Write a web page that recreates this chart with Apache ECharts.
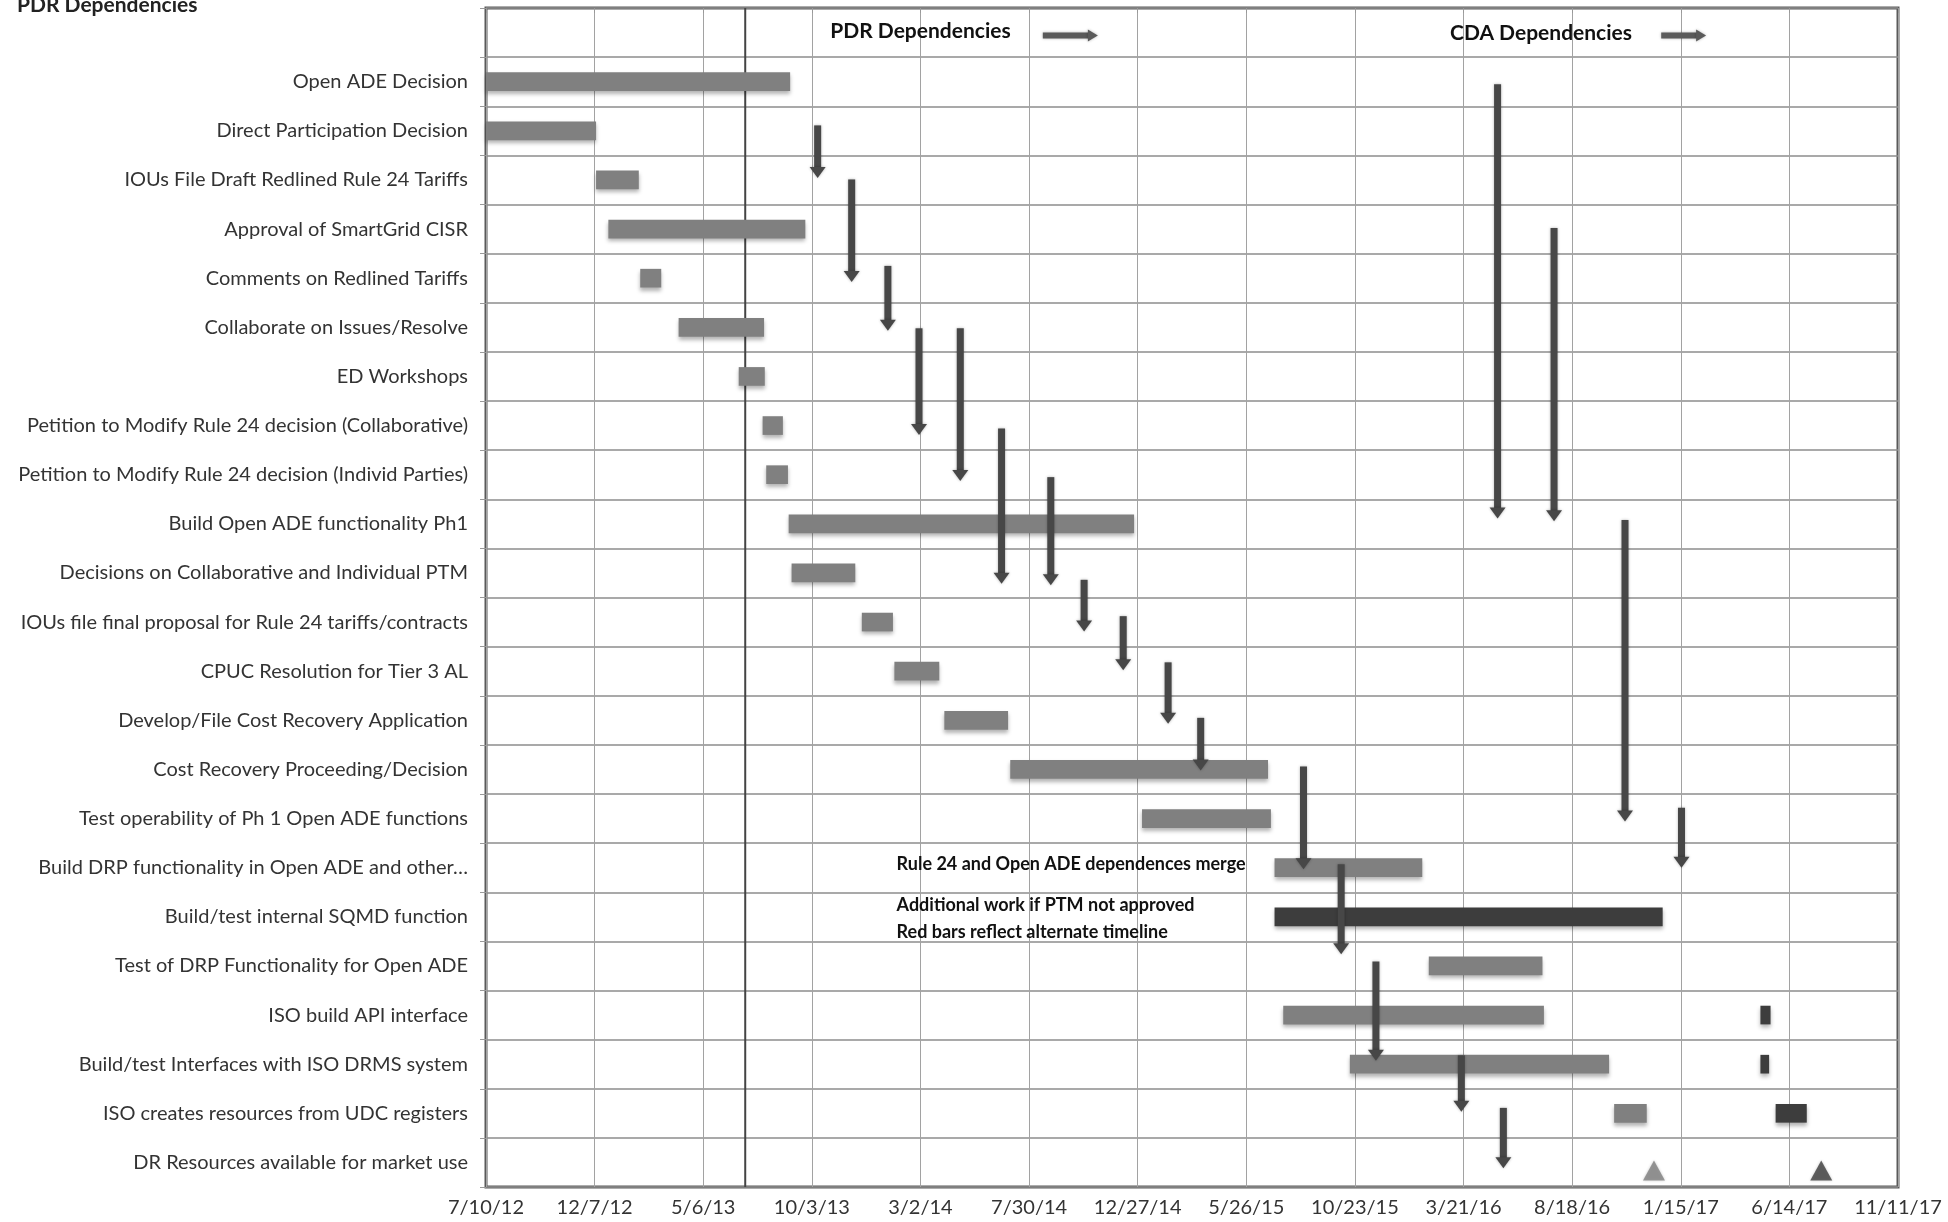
<!DOCTYPE html>
<html><head><meta charset="utf-8">
<script src="https://cdn.jsdelivr.net/npm/echarts@6/dist/echarts.min.js"></script>
<style>html,body{margin:0;padding:0;background:#fff}#c{width:1948px;height:1222px}</style>
</head><body><div id="c"></div>
<script>
// ---- Data (dates are Excel serial day numbers) ----
const categories = ['',
  'Open ADE Decision',
  'Direct Participation Decision',
  'IOUs File Draft Redlined Rule 24 Tariffs',
  'Approval of SmartGrid CISR',
  'Comments on Redlined Tariffs',
  'Collaborate on Issues/Resolve',
  'ED Workshops',
  'Petition to Modify Rule 24 decision (Collaborative)',
  'Petition to Modify Rule 24 decision (Individ Parties)',
  'Build Open ADE functionality Ph1',
  'Decisions on Collaborative and Individual PTM',
  'IOUs file final proposal for Rule 24 tariffs/contracts',
  'CPUC Resolution for Tier 3 AL',
  'Develop/File Cost Recovery Application',
  'Cost Recovery Proceeding/Decision',
  'Test operability of Ph 1 Open ADE functions',
  'Build DRP functionality in Open ADE and other…',
  'Build/test internal SQMD function',
  'Test of DRP Functionality for Open ADE',
  'ISO build API interface',
  'Build/test Interfaces with ISO DRMS system',
  'ISO creates resources from UDC registers',
  'DR Resources available for market use'
];
const taskStart = [null, 41100, 41100, 41252, 41269, 41313, 41366, 41449, 41482, 41487, 41518, 41522, 41619, 41664, 41733, 41824, 42006, 42189, 42189, 42402, 42201, 42293, 42658, null];
const taskEnd   = [null, 41520, 41252, 41311, 41541, 41342, 41484, 41485, 41510, 41517, 41995, 41610, 41662, 41726, 41821, 42180, 42184, 42393, 42725, 42559, 42561, 42651, 42703, null];
const taskTone  = ['', 'g','g','g','g','g','g','g','g','g','g','g','g','g','g','g','g','g','d','g','g','g','g',''];

const altTask  = ['ISO build API interface', 'Build/test Interfaces with ISO DRMS system', 'ISO creates resources from UDC registers'];
const altStart = [42860, 42860, 42881];
const altEnd   = [42874, 42872, 42924];

const milestoneTask = ['DR Resources available for market use', 'DR Resources available for market use'];
const milestoneDate = [42713, 42944];
const milestoneTone = ['g', 'd'];

const todayDate = 41458;

// dependency arrows: date, from row position, to row position (0 = top of chart, 1 per row)
const arrowDate = [41558, 41605, 41655, 41698, 41755, 41812, 41880, 41926, 41980, 42042, 42087, 42229, 42281, 42329, 42447, 42505, 42497, 42575, 42673, 42751];
const arrowFrom = [2.39, 3.49, 5.25, 6.52, 6.52, 8.56, 9.55, 11.64, 12.38, 13.32, 14.45, 15.44, 17.43, 19.41, 21.32, 22.39, 1.55, 4.48, 10.42, 16.28];
const arrowTo   = [3.46, 5.58, 6.57, 8.69, 9.63, 11.72, 11.75, 12.69, 13.48, 14.57, 15.52, 17.53, 19.26, 21.43, 22.47, 23.62, 10.39, 10.45, 16.56, 17.50];

const headerText  = ['PDR Dependencies', 'CDA Dependencies'];
const headerDate  = [41700, 42557];
const headerRow   = [0.48, 0.52];
const headerArrowStart = [41869, 42723];
const headerArrowEnd   = [41945, 42785];
const headerArrowRow   = [0.56, 0.56];

const noteText = ['Rule 24 and Open ADE dependences merge', 'Additional work if PTM not approved', 'Red bars reflect alternate timeline'];
const noteDate = [41667, 41667, 41667];
const noteRow  = [17.43, 18.27, 18.82];

const xMin = 41100, xMax = 43050, xStep = 150;

// ---- Chart ----
const FONT = 'Lato, "Liberation Sans", sans-serif';
const GRAY = '#808080', DARK = '#3d3d3d', ARROW = '#474747';

function serialToLabel(v) {
  const d = new Date(Date.UTC(1899, 11, 30) + Math.round(v) * 86400000);
  return (d.getUTCMonth() + 1) + '/' + d.getUTCDate() + '/' + String(d.getUTCFullYear()).slice(2);
}
function rowOf(name) { return categories.indexOf(name) + 0.5; }

const barData = [];
categories.forEach((c, i) => {
  if (taskStart[i] == null) return;
  barData.push({ value: [taskStart[i], taskEnd[i], i + 0.5], itemStyle: { color: taskTone[i] === 'd' ? DARK : GRAY } });
});
altTask.forEach((c, i) => barData.push({ value: [altStart[i], altEnd[i], rowOf(c)], itemStyle: { color: DARK } }));

const msData = milestoneTask.map((c, i) => ({ value: [milestoneDate[i], rowOf(c)], itemStyle: { color: milestoneTone[i] === 'd' ? DARK : GRAY } }));

const arrowData = arrowDate.map((d, i) => [d, arrowFrom[i], arrowTo[i]]);
const hArrowData = headerArrowStart.map((s, i) => [s, headerArrowEnd[i], headerArrowRow[i]]);
const headerData = headerText.map((t, i) => [headerDate[i], headerRow[i], t]);
const noteData = noteText.map((t, i) => [noteDate[i], noteRow[i], t]);
const todayData = [[todayDate, 0, categories.length]];

const chart = echarts.init(document.getElementById('c'));
chart.setOption({
  backgroundColor: '#fff',
  animation: false,
  title: { text: 'PDR Dependencies', left: 12, top: -10, textStyle: { fontFamily: FONT, fontSize: 21, fontWeight: 'bold', color: '#222' } },
  grid: { left: 486, right: 50, top: 8, bottom: 35, show: true, borderColor: '#5a5a5a', borderWidth: 3, backgroundColor: 'transparent' },
  xAxis: {
    type: 'value', min: xMin, max: xMax, interval: xStep,
    axisLine: { show: false },
    axisTick: { show: true, length: 5, lineStyle: { color: '#999' } },
    axisLabel: { formatter: serialToLabel, fontFamily: FONT, fontSize: 20, color: '#333', margin: 11 },
    splitLine: { show: true, lineStyle: { color: '#a2a2a2', width: 1 } }
  },
  yAxis: [{
    type: 'value', min: 0, max: categories.length, interval: 1, inverse: true,
    axisLine: { show: false },
    axisTick: { show: true, length: 6, lineStyle: { color: '#999' } },
    axisLabel: { show: false },
    splitLine: { show: true, lineStyle: { color: '#8c8c8c', width: 1.5 } }
  }, {
    type: 'category', data: categories, inverse: true, position: 'left',
    axisLine: { show: false },
    axisTick: { show: false },
    splitLine: { show: false },
    axisLabel: { interval: 0, fontFamily: FONT, fontSize: 20, color: '#333', margin: 18 }
  }],
  series: [
    {
      type: 'custom', name: 'today', yAxisIndex: 0,
      encode: { x: 0, y: [1, 2] },
      data: todayData,
      renderItem: function (params, api) {
        const a = api.coord([api.value(0), api.value(1)]);
        const b = api.coord([api.value(0), api.value(2)]);
        return { type: 'line', shape: { x1: a[0], y1: a[1], x2: b[0], y2: b[1] }, style: { stroke: '#444', lineWidth: 2 } };
      },
      z: 2
    },
    {
      type: 'custom', name: 'bars', yAxisIndex: 0,
      encode: { x: [0, 1], y: 2 },
      data: barData,
      renderItem: function (params, api) {
        const y = api.value(2);
        const p0 = api.coord([api.value(0), y]);
        const p1 = api.coord([api.value(1), y]);
        const h = api.size([0, 1])[1] * 0.38;
        return {
          type: 'rect',
          shape: { x: p0[0], y: p0[1] - h / 2, width: p1[0] - p0[0], height: h },
          style: { fill: api.visual('color'), shadowBlur: 4, shadowOffsetY: 3, shadowColor: 'rgba(0,0,0,0.3)' }
        };
      },
      z: 3
    },
    {
      type: 'scatter', name: 'milestones', yAxisIndex: 0,
      symbol: 'triangle', symbolSize: [22, 20], symbolOffset: [0, 8],
      data: msData,
      itemStyle: { shadowBlur: 3, shadowColor: 'rgba(0,0,0,0.25)' },
      z: 4
    },
    {
      type: 'custom', name: 'arrows', yAxisIndex: 0,
      encode: { x: 0, y: [1, 2] },
      data: arrowData,
      renderItem: function (params, api) {
        const x = api.value(0);
        const a = api.coord([x, api.value(1)]);
        const b = api.coord([x, api.value(2)]);
        const sw = 7, hw = 16, hh = 11;
        const st = { fill: ARROW, shadowBlur: 3, shadowColor: 'rgba(0,0,0,0.3)' };
        return { type: 'group', children: [
          { type: 'rect', shape: { x: a[0] - sw / 2, y: a[1], width: sw, height: b[1] - a[1] - hh + 1 }, style: st },
          { type: 'polygon', shape: { points: [[b[0] - hw / 2, b[1] - hh], [b[0] + hw / 2, b[1] - hh], [b[0], b[1]]] }, style: st }
        ] };
      },
      z: 5
    },
    {
      type: 'custom', name: 'headerArrows', yAxisIndex: 0,
      encode: { x: [0, 1], y: 2 },
      data: hArrowData,
      renderItem: function (params, api) {
        const a = api.coord([api.value(0), api.value(2)]);
        const b = api.coord([api.value(1), api.value(2)]);
        const sw = 6, hw = 12, hl = 10;
        const st = { fill: '#5a5a5a', shadowBlur: 3, shadowColor: 'rgba(0,0,0,0.3)' };
        return { type: 'group', children: [
          { type: 'rect', shape: { x: a[0], y: a[1] - sw / 2, width: b[0] - a[0] - hl + 1, height: sw }, style: st },
          { type: 'polygon', shape: { points: [[b[0] - hl, a[1] - hw / 2], [b[0] - hl, a[1] + hw / 2], [b[0], a[1]]] }, style: st }
        ] };
      },
      z: 5
    },
    {
      type: 'custom', name: 'headers', yAxisIndex: 0,
      encode: { x: 0, y: 1 },
      data: headerData,
      renderItem: function (params, api) {
        const p = api.coord([api.value(0), api.value(1)]);
        return { type: 'text', x: p[0], y: p[1], style: { text: headerText[params.dataIndex], fill: '#111', font: 'bold 21px ' + FONT, align: 'center', verticalAlign: 'middle' } };
      },
      z: 6
    },
    {
      type: 'custom', name: 'notes', yAxisIndex: 0,
      encode: { x: 0, y: 1 },
      data: noteData,
      renderItem: function (params, api) {
        const p = api.coord([api.value(0), api.value(1)]);
        return { type: 'text', x: p[0], y: p[1], style: { text: noteText[params.dataIndex], fill: '#111', font: 'bold 18px ' + FONT, align: 'left', verticalAlign: 'middle' } };
      },
      z: 6
    }
  ]
});
</script>
</body></html>
